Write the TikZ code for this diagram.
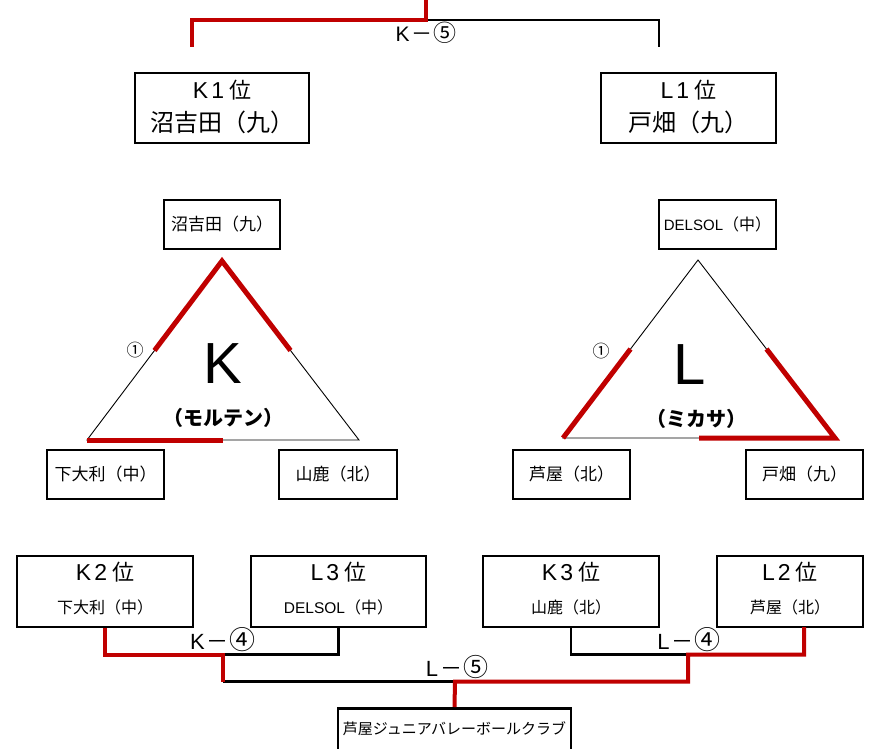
\documentclass[tikz,border=0pt]{standalone}
\usepackage{fontspec}
\setmainfont{Noto Sans CJK JP}
\newfontfamily\lat{Liberation Sans}
\usetikzlibrary{calc}
\definecolor{rd}{RGB}{192,0,0}
\newcommand{\rankt}[2]{{\lat\fontsize{23}{23}\selectfont #1\kern3pt #2}\kern5pt{\fontsize{22}{22}\selectfont 位}}
\newcommand{\matchl}[3]{{\lat #1}\kern2pt －\kern1pt{\fontsize{#3}{#3}\selectfont #2}}
\begin{document}
\begin{tikzpicture}[x=1pt,y=-1pt,
 box/.style={draw=black, line width=2.5pt, inner sep=0pt},
 blk/.style={draw=black, line width=2.2pt},
 redl/.style={draw=rd, line width=4pt},
 tri/.style={draw=black, line width=0.9pt},
 trired/.style={draw=rd, line width=5pt},
 fs/.style={font=\fontsize{#1}{#1}\selectfont, inner sep=0pt}]
\useasboundingbox (0,0) rectangle (876,748);
\fill[white] (0,0) rectangle (876,748);

% ---------- top bracket ----------
\node[box, minimum width=174pt, minimum height=70pt] (K1) at (222,108) {};
\node[box, minimum width=175pt, minimum height=70pt] (L1) at (688.5,108) {};
\node[fs=22] (K1a) at (222,90) {\rankt{K}{1}};
\node[fs=24] (K1b) at (222,122) {沼吉田（九）};
\node[fs=22] (L1a) at (688.5,90) {\rankt{L}{1}};
\node[fs=24] (L1b) at (688.5,122) {戸畑（九）};
\coordinate (t5) at (425.5,0);
\coordinate (tj) at (425.5,20);
\coordinate (tl) at (192,20);
\coordinate (tlb) at (192,47);
\coordinate (tr) at (659,20);
\coordinate (trb) at (659,47);
\draw[blk] (tj) -- (tr) -- (trb);
\draw[redl] (t5) -- (tj) -- (tl) -- (tlb);
\node[fs=21] (k5) at (426,33) {\matchl{K}{⑤}{23}};

% ---------- K triangle ----------
\node[box, minimum width=116pt, minimum height=49pt] (KA) at (222,224.5) {};
\node[fs=17] (KAt) at (222,224.5) {沼吉田（九）};
\node[box, minimum width=117pt, minimum height=49pt] (KB) at (105.5,474.5) {};
\node[fs=17] (KBt) at (105.5,474.5) {下大利（中）};
\node[box, minimum width=118pt, minimum height=49pt] (KC) at (338,474.5) {};
\node[fs=17] (KCt) at (338,474.5) {山鹿（北）};
\coordinate (Kt) at (222,261);
\coordinate (Kl) at (87,440);
\coordinate (Kr) at (359,440);
\draw[tri] (Kt) -- (Kl) -- (Kr) -- cycle;
\draw[trired] ($(Kt)!0.5!(Kl)$) -- (Kt) -- ($(Kt)!0.5!(Kr)$);
\draw[trired] (Kl) -- ($(Kl)!0.5!(Kr)$);
\node[fs=17] (K1c) at (135,350) {①};
\node[fs=58, font=\lat\fontsize{58}{58}\selectfont] (Kbig) at (223,364) {K};
\node[fs=20, font=\bfseries\fontsize{20}{20}\selectfont] (Kteam) at (223,418) {（モルテン）};

% ---------- L triangle ----------
\node[box, minimum width=117pt, minimum height=49pt] (LA) at (717.5,224.5) {};
\node[fs=16] (LAt) at (717.5,224.5) {{\lat\fontsize{15}{15}\selectfont DELSOL}（中）};
\node[box, minimum width=117pt, minimum height=49pt] (LB) at (571.5,474.5) {};
\node[fs=17] (LBt) at (571.5,474.5) {芦屋（北）};
\node[box, minimum width=117pt, minimum height=49pt] (LC) at (804.5,474.5) {};
\node[fs=17] (LCt) at (804.5,474.5) {戸畑（九）};
\coordinate (Lt) at (698,260);
\coordinate (Ll) at (563,438);
\coordinate (Lr) at (835,438);
\draw[tri] (Lt) -- (Ll) -- (Lr) -- cycle;
\draw[trired] ($(Lt)!0.5!(Ll)$) -- (Ll);
\draw[trired] ($(Lt)!0.5!(Lr)$) -- (Lr) -- ($(Lr)!0.5!(Ll)$);
\node[fs=17] (L1c) at (601,351) {①};
\node[fs=58, font=\lat\fontsize{58}{58}\selectfont] (Lbig) at (690,365) {L};
\node[fs=20, font=\bfseries\fontsize{20}{20}\selectfont] (Lteam) at (696,419) {（ミカサ）};

% ---------- bottom bracket ----------
\node[box, minimum width=176pt, minimum height=71pt] (K2) at (105,591.5) {};
\node[fs=22] (K2a) at (105,572) {\rankt{K}{2}};
\node[fs=16] (K2b) at (105,607) {下大利（中）};
\node[box, minimum width=175pt, minimum height=71pt] (L3) at (338.5,591.5) {};
\node[fs=22] (L3a) at (338.5,572) {\rankt{L}{3}};
\node[fs=16] (L3b) at (338.5,607) {{\lat\fontsize{15.5}{15.5}\selectfont DELSOL}（中）};
\node[box, minimum width=176pt, minimum height=71pt] (K3) at (571,591.5) {};
\node[fs=22] (K3a) at (571,572) {\rankt{K}{3}};
\node[fs=16] (K3b) at (571,607) {山鹿（北）};
\node[box, minimum width=146pt, minimum height=71pt] (L2) at (790,591.5) {};
\node[fs=22] (L2a) at (790,572) {\rankt{L}{2}};
\node[fs=16] (L2b) at (790,607) {芦屋（北）};
\node[box, minimum width=233pt, minimum height=60pt, anchor=north] (club) at (454.5,707) {};
\node[fs=15] (clubt) at (454.5,729) {芦屋ジュニアバレーボールクラブ};

\coordinate (kj) at (223,654.5);
\coordinate (kjd) at (223,681.5);
\coordinate (lj) at (688,654.5);
\coordinate (ljd) at (688,681.5);
\coordinate (l2d) at (804,627);
\coordinate (cj) at (455,681.5);
\draw[blk] (L3.south) |- (kj);
\draw[blk] (K3.south) |- (lj);
\draw[blk] (kjd) -- (cj);
\draw[redl] (K2.south) |- (kj) -- (kjd);
\draw[redl] (l2d) |- (lj) -- (ljd) -- (cj) -- (club.north);
\node[fs=22] (k4) at (223,640) {\matchl{K}{④}{26}};
\node[fs=22] (l4) at (689,640) {\matchl{L}{④}{26}};
\node[fs=22] (l5) at (457,667) {\matchl{L}{⑤}{25}};
\end{tikzpicture}
\end{document}
